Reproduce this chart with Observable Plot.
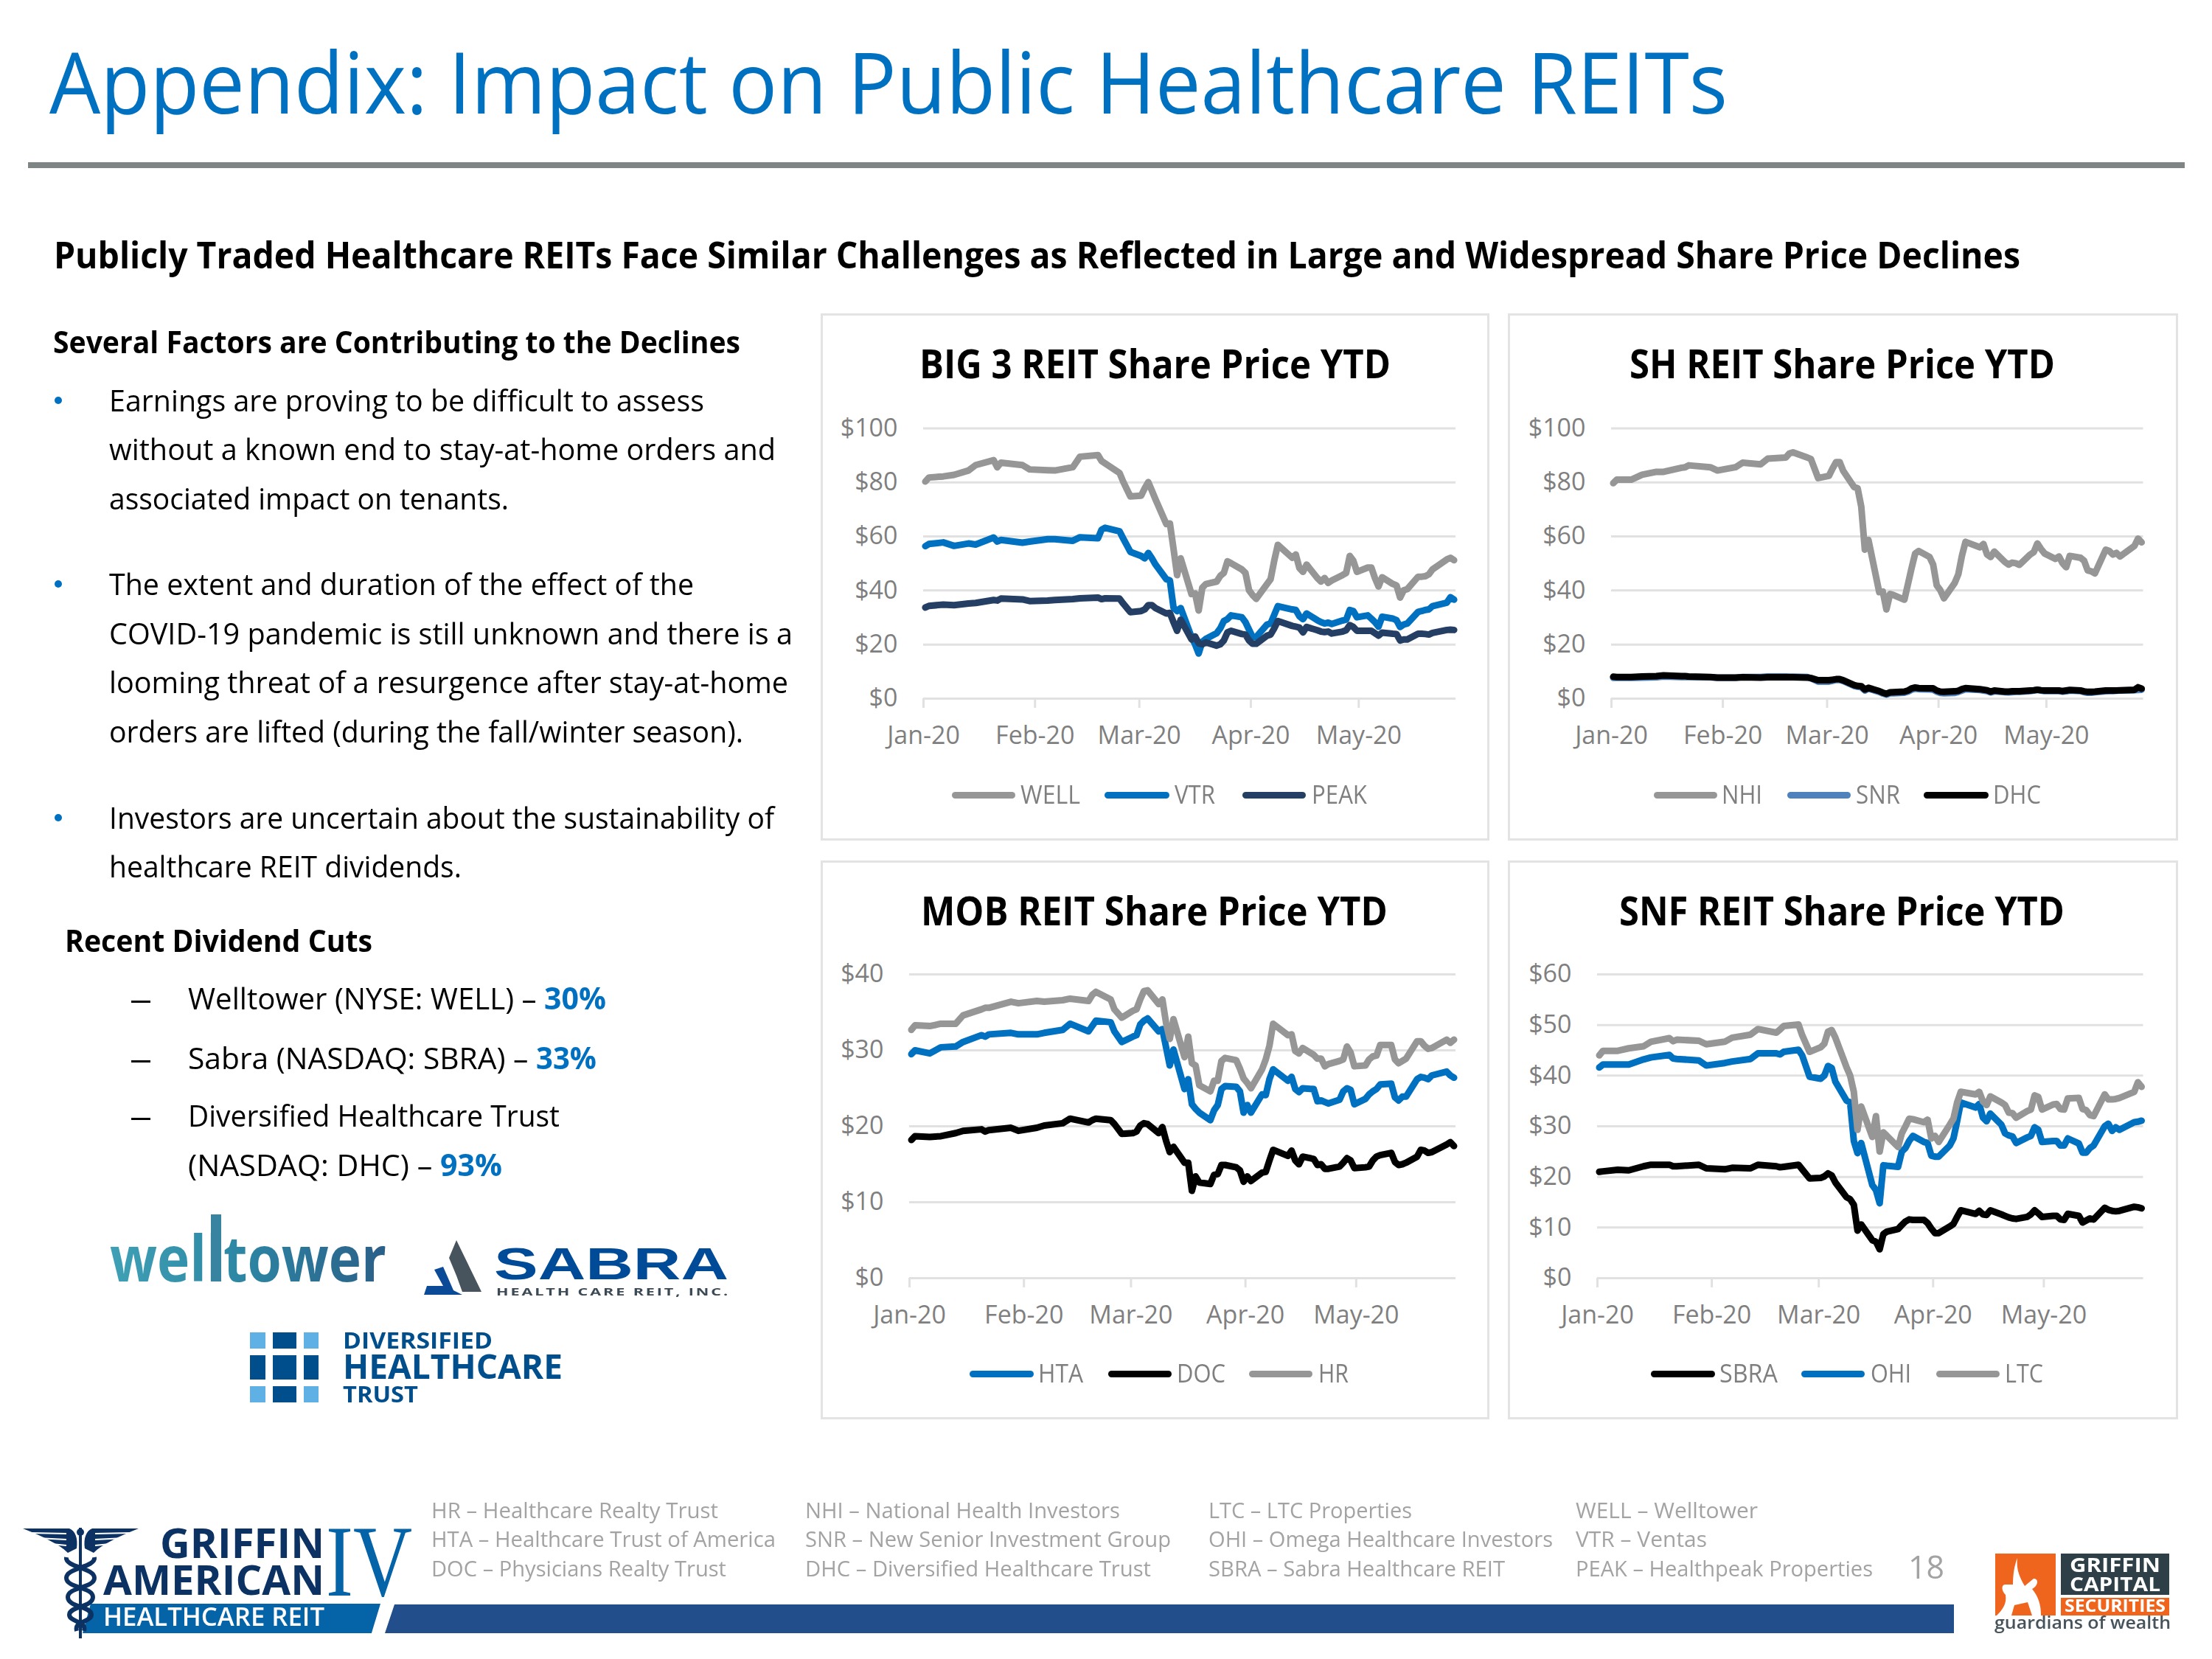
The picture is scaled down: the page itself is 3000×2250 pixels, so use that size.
<!DOCTYPE html>
<html><head><meta charset="utf-8">
<script src="https://cdn.jsdelivr.net/npm/d3@7"></script>
<script src="https://cdn.jsdelivr.net/npm/@observablehq/plot@0.6"></script>
<style>
html,body{margin:0;padding:0;background:#fff}
#page{position:relative;width:3000px;height:2250px;overflow:hidden;background:#fff;font-family:"Open Sans",sans-serif}
.t{position:absolute;white-space:pre;transform-origin:0 0;line-height:0.78}
.box{position:absolute}
.chart{position:absolute}
.chart svg{display:block;overflow:visible}
</style></head><body><div id="page"></div>
<script>
const tradingDays = ["01-02","01-03","01-07","01-10","01-14","01-16","01-21","01-22","01-23","01-29","01-31","02-05","02-07","02-12","02-14","02-19","02-20","02-21","02-25","02-26","02-28",
"03-02","03-03","03-04","03-05","03-06","03-09","03-10","03-11","03-12","03-13","03-16","03-17","03-18","03-19","03-20","03-23","03-24","03-25","03-26","03-27","03-30","03-31",
"04-01","04-02","04-03","04-06","04-07","04-08","04-09","04-13","04-14","04-15","04-16","04-17","04-20","04-21","04-22","04-23","04-24","04-27","04-28","04-29","04-30",
"05-01","05-04","05-05","05-06","05-07","05-08","05-11","05-12","05-13","05-14","05-15","05-18","05-19","05-20","05-21","05-22","05-26","05-27","05-28"];
const axisMonths = ["01-02","02-02","03-02","04-02","05-02"];

const WELL = [80.3,81.8,82.2,82.8,84.4,86.4,88.2,85.6,87.3,86.4,84.8,84.5,84.4,85.6,89.5,90.1,87.9,87,83.5,80.3,74.8,
75.1,77.8,80.1,76.9,73.7,64.6,64.8,55.5,45.7,51.9,38.7,38.9,32.6,41,42.4,43.3,45.4,46.5,50.8,50.1,47.8,46.5,
40.1,38.3,36.9,42.4,44.2,51,56.9,52.1,53.3,48.3,46.9,49.6,44.6,43.3,44.6,42.8,43.7,45.7,46.5,52.8,51,
46.9,48.5,48.5,44.6,41.5,44.9,42.4,41.9,37.4,40.1,40.5,45.1,45.1,45.3,46,47.8,51.5,52.1,51.2];
const VTR = [56.4,57.2,57.8,56.5,57.4,57,59.6,58.1,58.7,57.7,58.1,59,59,58.4,59.7,59.3,62.5,63.2,61.9,59.3,54.3,
52.8,51.9,53.9,51.9,49.6,44.2,43.7,33.7,32.4,33.5,22.8,20.1,16.7,21,22.1,24.2,26,28.7,29.4,30.8,30.1,28.3,
25.5,22.8,22.8,27.4,27.8,31,34.2,33,32.8,30.5,29.4,31.5,29,28.3,27.8,28.1,27.6,28.9,29.2,32.8,32.4,
30.1,30.8,29.6,28.3,26.6,30.3,29.6,29,26.5,27.4,27.8,32.1,32.4,32.8,33,34.2,35.5,37.5,36.6];
const PEAK = [33.7,34.3,34.8,34.6,35.2,35.4,36.5,36.3,37,36.7,36.1,36.3,36.5,36.8,37.1,37.4,36.8,37.1,37,35.2,32,
32.4,33,34.6,34.6,33.5,31.5,31.7,28.3,25.1,29.2,21.9,23,20.5,20.1,20.8,19.6,20.1,21.5,24.5,25.1,23.9,23.7,
21.5,20.3,20.3,23.3,23.7,26,28.7,26.9,26.6,26.3,24.5,26.5,25.3,24.8,24.6,24.8,24.1,24.8,25.3,27.2,26.5,
25.1,25.1,25.1,24.2,23.3,24.4,24,23.9,21.5,21.9,21.9,24,24,23.9,23.7,24.3,25.4,25.5,25.4];

const NHI = [79.7,81,81,82.8,83.9,83.9,85.4,85.6,86.3,85.6,84.4,85.6,87.3,86.7,88.8,89.2,90.7,91.1,89.2,88.6,81.6,
82.4,85.1,87.5,87.5,84.2,78.3,77.8,71,55.1,58.7,39.4,39.6,33,38.7,38.3,36.6,42.4,48.3,53.7,54.6,52.4,49.6,
41.9,40.1,37.1,42.8,46,52.8,58,56,57.2,53.3,52.4,54.4,50.5,49.6,50.3,50.1,49.5,53.3,54.2,57.4,55.4,
53.7,51.7,52.6,50.1,48.6,52.8,52.1,51,47.4,47.1,46.3,55.1,54.6,53.3,53.9,52.6,56.5,59.2,57.8];
const SNR = [7.7,7.7,7.7,7.8,7.9,8.2,8,8,8,7.9,7.7,7.7,8,8,8.2,8.2,8.1,8.1,8,7.5,6.3,
6.3,6.6,6.9,6.9,6.5,4.7,4.4,4.2,3,3.7,2.5,1.9,1.5,2,2,2.2,2.6,3.3,3.7,3.5,3.4,3.3,
2.6,2.1,2,2.1,2.5,3,3.5,3.2,3,2.8,2.3,2.7,2.4,2.3,2.4,2.5,2.5,2.8,3,3.2,3,
2.8,2.8,2.8,2.6,2.7,3,2.8,2.4,2.2,2.2,2.4,2.7,2.8,2.8,2.9,3,3.1,3.2,3.3];
const DHC = [8.1,8,8,8.2,8.3,8.6,8.3,8.3,8.2,8,7.8,7.8,7.9,7.8,7.9,7.9,7.9,7.9,7.8,7.6,6.8,
6.8,7,7.2,7.2,6.8,5,4.7,4.6,3.4,4,2.8,2.2,1.8,2.3,2.4,2.6,3,3.8,4.1,3.9,3.8,3.8,
3,2.6,2.5,2.7,2.9,3.5,3.9,3.5,3.3,3.1,2.6,3,2.6,2.6,2.7,2.7,2.7,3,3.1,3.3,3.1,
3,3,3,2.8,3,3.2,3,2.7,2.5,2.5,2.6,3,3,3,3,3.1,3.3,4.2,3.7];

const HTA = [29.5,30,29.6,30.4,30.5,31.1,32,31.8,32.1,32.3,32.1,32.1,32.3,32.7,33.5,32.5,33.2,33.9,33.7,32.5,31.1,
31.8,32,33.4,33.9,34.2,32.5,32.8,30.4,28,30.1,24.9,26.2,22.9,22.3,21.8,20.8,22.1,22.8,24.9,25.3,25.2,24.6,
21.8,22.8,21.8,24.2,24.1,26.2,27.5,26,26.5,24.9,24.5,25,24.9,23.3,23.4,23.2,23,23.5,24.6,25,24.8,
22.9,23.6,24.2,24.6,24.9,25.5,25.6,23.8,23.4,23.9,23.9,26.2,26.5,26.4,26.2,26.7,27.2,26.7,26.4];
const DOC = [18.2,18.7,18.6,18.7,19.1,19.4,19.6,19.3,19.5,19.8,19.4,19.8,20.1,20.4,21,20.5,20.8,21,20.8,20.3,19,
19.1,19.3,20.1,20.4,20.3,19.1,19.9,18.1,16.6,17.3,15.2,15.2,11.5,13.4,12.6,12.4,13.6,13.7,14.9,14.9,14.6,14.2,
12.7,13.4,12.8,13.9,14,15.5,16.9,16.1,16.8,15.5,15,16,15.7,14.9,15,14.4,14.4,14.7,15.2,15.8,15.5,
14.5,14.6,14.7,15.5,16,16.2,16.5,15.3,14.9,15,15.2,16,16.9,16.8,16.5,16.6,17.6,17.9,17.4];
const HR = [32.7,33.3,33.2,33.5,33.5,34.6,35.4,35.6,35.6,36.4,36.2,36.5,36.4,36.6,36.8,36.5,37.3,37.7,36.7,35.4,34.3,
35.2,35.4,36.7,37.8,37.9,36.1,36.7,33.6,31.5,34.1,29.1,31.8,28.3,28,25.4,24.6,26,26,28.6,29,28.7,27.6,
26.3,25.7,25,27.5,28.8,30.6,33.5,32,32.1,29.9,29.6,30.3,29.4,28.9,28.9,27.9,28.2,28.6,28.8,30.5,29.7,
27.9,28,28.8,29.2,29.3,30.7,30.7,28.8,28.3,28.6,28.9,31.2,31.2,30.6,30.2,30.3,31.4,31,31.4];

const SBRA = [21,21.1,21.4,21.3,22.1,22.4,22.4,22.1,22.1,22.4,21.7,21.5,21.8,21.7,22.4,22.1,21.9,22,22.4,21.5,19.7,
19.8,20.1,20.7,20.3,18.9,16,15.6,14.5,9.4,10.6,7.5,7.2,5.7,8.7,9.2,9.7,10.5,11.2,11.6,11.5,11.5,10.9,
9.8,8.9,8.9,10.2,10.7,12.1,13.4,12.7,13.3,12.6,12.5,13.4,12.6,12.3,12,11.8,11.7,12.1,12.6,13.4,12.8,
12.1,12.3,12.3,11.6,11.5,12.7,12.3,11,11.4,11.8,11.6,13.9,13.5,13.3,13.2,13.3,14.1,14,13.8];
const OHI = [41.6,42.2,42.2,42.2,43.2,43.6,44.1,43.4,43.3,43,42,42.5,42.8,43.3,44.4,44.4,44.2,44.7,45.1,44,39.8,
39.4,40,41.9,41.5,38.8,35.1,34.7,27.1,24.7,26.7,18.4,17.4,14.8,22.3,22.2,22,25,25.7,27.1,28.1,26.9,26.7,
24.2,24,24,26.2,27.6,31,34.7,33.7,34.4,31.7,31,32.5,30.3,28.6,28.2,28,26.7,27.8,28.1,29.8,29.3,
26.9,27.1,27.1,26.2,26.2,27.6,26.6,24.8,24.8,25.7,26.2,30,30.5,29.1,29.8,29.3,30.8,30.9,31.1];
const LTC = [44,44.9,44.9,45.4,45.8,46.7,47.4,46.8,47.1,46.9,46.2,46.7,47.5,48.1,49.2,48.5,49.1,49.8,50.1,48,44.7,
45.6,46.3,48.7,49,47.5,41.7,40,36.8,29.3,33.9,27.9,32,25,28.8,28.1,25.9,28.6,30,31.5,31.4,30.8,31.3,
27.6,28.1,26.9,30.3,31.5,34.7,36.8,36.3,36.8,34.9,34.2,35.9,34.7,34.2,32.7,32.6,31.7,33,33.3,36.1,35.8,
33.3,34.3,34.4,33.4,33.3,35.5,35.6,33.4,33.2,32.2,32,36.3,35.3,35.3,35.4,35.6,36.8,38.7,37.8];

const ticks100 = [0,20,40,60,80,100];
const ticks40 = [0,10,20,30,40];
const ticks60 = [0,10,20,30,40,50,60];

const GRAY="#969696", BLUE="#0070c0", NAVY="#243f63", STEEL="#4f81bd", BLACK="#000000";
const LABEL="#7f7f7f", GRID="#e1e1e1";

const page=document.getElementById("page");
const toDate=s=>new Date(Date.UTC(2020,+s.slice(0,2)-1,+s.slice(3)));
const toNoon=s=>new Date(+toDate(s)+43200000);

function box(x,y,w,h,css){const d=document.createElement("div");d.className="box";
  d.style.cssText=`left:${x}px;top:${y}px;width:${w}px;height:${h}px;`+(css||"");page.appendChild(d);return d;}
// text placed by left edge and baseline, horizontally fitted to the width it has in the reference
function text(str,x,base,size,right,o={}){
  const s=document.createElement("span");s.className="t";s.textContent=str;
  s.style.fontSize=size+"px";s.style.color=o.color||"#000";s.style.fontWeight=o.weight||400;
  s.style.fontFamily=o.font||'"Open Sans",sans-serif';
  if(o.ls)s.style.letterSpacing=o.ls+"px";
  if(o.gradient){s.style.background=o.gradient;s.style.webkitBackgroundClip="text";s.style.backgroundClip="text";s.style.color="transparent";s.style.lineHeight="1.3";}
  page.appendChild(s);
  const ctx=document.createElement("canvas").getContext("2d");
  ctx.font=`${o.weight||400} ${size}px ${o.font||'"Open Sans"'}`;
  const m=ctx.measureText("Hg");
  const asc=m.fontBoundingBoxAscent,desc=m.fontBoundingBoxDescent;
  const lh=o.gradient?1.3:0.78;
  const top=base-(lh*size-(asc+desc))/2-asc;
  s.style.left=x+"px";s.style.top=top+"px";
  if(right){const w=s.getBoundingClientRect().width;s.style.transform=`scaleX(${(right-x)/w})`;}
  return s;
}
function svgBox(x,y,w,h,inner){const d=box(x,y,w,h);d.innerHTML=`<svg xmlns="http://www.w3.org/2000/svg" width="${w}" height="${h}" viewBox="0 0 ${w} ${h}">${inner}</svg>`;return d;}

/* ---------- charts ---------- */
const charts=[
 {title:"BIG 3 REIT Share Price YTD",tx:[1247,1886],tb:513,card:[1113,425,907,715],plot:[1252,1974,580.4,947],yd:[0,100],yt:ticks100,
  series:[["WELL",WELL,GRAY],["VTR",VTR,BLUE],["PEAK",PEAK,NAVY]],
  legendY:1078,legend:[[1291,1377,1384,1465],[1498,1586,1593,1648],[1685,1771,1779,1854]]},
 {title:"SH REIT Share Price YTD",tx:[2210,2787],tb:513,card:[2045,425,909,715],plot:[2185,2906.5,580.4,947],yd:[0,100],yt:ticks100,
  series:[["NHI",NHI,GRAY],["SNR",SNR,STEEL],["DHC",DHC,BLACK]],
  legendY:1078,legend:[[2243,2329,2335,2390],[2424,2510,2517,2577],[2609,2697,2703,2768]]},
 {title:"MOB REIT Share Price YTD",tx:[1249,1882],tb:1255,card:[1113,1167,907,758],plot:[1233,1974,1321,1733],yd:[0,40],yt:ticks40,
  series:[["HTA",HTA,BLUE],["DOC",DOC,BLACK],["HR",HR,GRAY]],
  legendY:1863,legend:[[1315,1402,1408,1469],[1503,1589,1596,1662],[1694,1780,1788,1829]]},
 {title:"SNF REIT Share Price YTD",tx:[2196,2800],tb:1255,card:[2045,1167,909,758],plot:[2166,2906.5,1321,1733],yd:[0,60],yt:ticks60,
  series:[["SBRA",SBRA,BLACK],["OHI",OHI,BLUE],["LTC",LTC,GRAY]],
  legendY:1863,legend:[[2239,2326,2332,2411],[2443,2529,2537,2592],[2626,2712,2719,2771]]}
];

for(const c of charts){
  const [cx,cy,cw,ch]=c.card,[px0,px1,py0,py1]=c.plot;
  box(cx,cy,cw-6,ch-6,`border:3px solid #e3e3e3;`);
  text(c.title,c.tx[0],c.tb,54,c.tx[1],{weight:700});
  const marks=[
    Plot.gridY(c.yt,{stroke:GRID,strokeWidth:3,strokeOpacity:1}),
    Plot.axisY(c.yt,{tickSize:0,tickPadding:35,fill:LABEL,tickFormat:d=>"$"+d,label:null}),
    Plot.axisX(axisMonths.map(toDate),{tickSize:13,tickPadding:24,stroke:GRID,strokeWidth:3,fill:LABEL,tickFormat:d3.utcFormat("%b-%y"),label:null})
  ];
  for(const [name,vals,color] of c.series){
    if(vals.length!==tradingDays.length) throw new Error(name+" has "+vals.length+" values, expected "+tradingDays.length);
    marks.push(Plot.line(vals.map((v,i)=>({date:toNoon(tradingDays[i]),price:v})),
      {x:"date",y:"price",stroke:color,strokeWidth:9,strokeLinejoin:"round",strokeLinecap:"round",curve:"linear"}));
  }
  const svg=Plot.plot({
    width:cw,height:ch,
    marginLeft:px0-cx,marginRight:cx+cw-px1,marginTop:py0-cy,marginBottom:cy+ch-py1,
    x:{type:"utc",domain:[toDate("01-02"),toDate("05-29")]},
    y:{domain:c.yd},
    style:{fontFamily:'"Open Sans",sans-serif',fontSize:"34px",background:"transparent",overflow:"visible"},
    marks
  });
  const wrap=document.createElement("div");wrap.className="chart";wrap.style.left=cx+"px";wrap.style.top=cy+"px";
  wrap.appendChild(svg);page.appendChild(wrap);
  c.series.forEach(([name,,color],i)=>{
    const [a,b,tx,tr]=c.legend[i];
    box(a,c.legendY-4.5,b-a,9,`background:${color};border-radius:4.5px;`);
    text(name,tx,c.legendY+12,34,tr,{color:LABEL});
  });
}

/* ---------- slide header ---------- */
text("Appendix: Impact on Public Healthcare REITs",67,154,116,2343,{color:"#0070c0",weight:400});
box(38,220,2925,7.5,"background:#7f8484;");
text("Publicly Traded Healthcare REITs Face Similar Challenges as Reflected in Large and Widespread Share Price Declines",73,365,51,2740,{weight:700});

/* ---------- left column ---------- */
text("Several Factors are Contributing to the Declines",72,480,42,1004,{weight:700});
const bullets=[
 ["Earnings are proving to be difficult to assess",559,955,true],
 ["without a known end to stay-at-home orders and",625,1052],
 ["associated impact on tenants.",692,690],
 ["The extent and duration of the effect of the",808,941,true],
 ["COVID-19 pandemic is still unknown and there is a",875,1075],
 ["looming threat of a resurgence after stay-at-home",941,1069],
 ["orders are lifted (during the fall/winter season).",1008,1008],
 ["Investors are uncertain about the sustainability of",1125,1050,true],
 ["healthcare REIT dividends.",1191,626]
];
for(const [s,b,r,dot] of bullets){
  text(s,148,b,41,r);
  if(dot) box(74,b-21,10,10,"background:#0070c0;border-radius:50%;");
}
text("Recent Dividend Cuts",88,1292,42,505,{weight:700});
const cuts=[
 ["Welltower (NYSE: WELL) – ",1370,738,"30%",822,true],
 ["Sabra (NASDAQ: SBRA) – ",1451,727,"33%",809,true],
 ["Diversified Healthcare Trust",1529,759,null,null,true],
 ["(NASDAQ: DHC) – ",1596,597,"93%",681,false]
];
for(const [s,b,r,pct,pr,dash] of cuts){
  if(dash) box(178,b-13,26,3,"background:#000;");
  text(s,255,b,41,r);
  if(pct) text(pct,r,b,41,pr,{weight:700,color:"#0070c0"});
}

/* ---------- logos ---------- */
text("welltower",149,1738,86,524,{weight:700,gradient:"linear-gradient(90deg,#3fa0b5 0%,#2d88a5 45%,#2b5f88 100%)"});
box(286,1647,14,91,"background:#38839f;");
svgBox(575,1680,82,78,`<polygon points="44,2 78,72 52,72 44,50 34,26" fill="#47545e"/><polygon points="26,38 40,70 52,76 0,76 4,64 26,64 14,42" fill="#0a4a97"/>`);
text("SABRA",670,1736,62,988,{weight:800,color:"#004b97",font:'"Liberation Sans"'});
text("HEALTH CARE REIT, INC.",673,1758,15,990,{weight:700,color:"#3c4a55",ls:2});
const lightB="#5eb0e5",darkB="#004f8c";
[[1807,22,lightB,darkB],[1838,33,darkB,darkB],[1880,22,lightB,darkB]].forEach(([y,h,a,b])=>{
  box(339,y,21,h,`background:${a}`);box(370,y,32,h,`background:${b}`);box(412,y,20,h,`background:${a}`);
});
text("DIVERSIFIED",465,1829,30,668,{weight:700,color:darkB});
text("HEALTHCARE",465,1871,46,763,{weight:700,color:darkB});
text("TRUST",465,1902,30,567,{weight:700,color:darkB});

/* ---------- footer glossary ---------- */
const GLOSS="#a3a3a3";
const glossary=[
 ["HR – Healthcare Realty Trust",585,2059,974],["HTA – Healthcare Trust of America",585,2098,1052],["DOC – Physicians Realty Trust",585,2138,985],
 ["NHI – National Health Investors",1092,2059,1519],["SNR – New Senior Investment Group",1092,2098,1588],["DHC – Diversified Healthcare Trust",1092,2138,1561],
 ["LTC – LTC Properties",1639,2059,1915],["OHI – Omega Healthcare Investors",1639,2098,2106],["SBRA – Sabra Healthcare REIT",1639,2138,2041],
 ["WELL – Welltower",2137,2059,2384],["VTR – Ventas",2137,2098,2315],["PEAK – Healthpeak Properties",2137,2138,2540]
];
for(const [s,x,b,r] of glossary) text(s,x,b,30,r,{color:GLOSS});
text("18",2588,2141,44,2637,{color:GLOSS});
box(522,2176,2128,39,"background:#234e8c;clip-path:polygon(13px 0,100% 0,100% 100%,0 100%);");

/* ---------- Griffin American logo ---------- */
const NAVYLOGO="#0b3263",BLUELOGO="#0563a8";
box(112,2175,404,40,`background:${BLUELOGO};clip-path:polygon(11px 0,100% 0,97% 100%,0 100%);`);
svgBox(28,2070,165,155,`
 <path d="M3 3 L66 3 C74 6 78 16 76 30 L64 36 C52 24 30 14 3 3Z" fill="${NAVYLOGO}"/>
 <path d="M160 3 L97 3 C89 6 85 16 87 30 L99 36 C111 24 133 14 160 3Z" fill="${NAVYLOGO}"/>
 <path d="M14 9 L62 10 M22 16 L62 18 M32 23 L62 26 M149 9 L101 10 M141 16 L101 18 M131 23 L101 26" stroke="#fff" stroke-width="2" fill="none"/>
 <line x1="81" y1="2" x2="81" y2="152" stroke="${NAVYLOGO}" stroke-width="4"/>
 <circle cx="81" cy="8" r="5" fill="${NAVYLOGO}"/>
 <path d="M62 42 C60 56 100 56 100 70 C100 84 64 82 64 96 C64 110 96 108 96 120 C96 130 72 128 76 142" fill="none" stroke="${NAVYLOGO}" stroke-width="6"/>
 <path d="M100 42 C102 56 62 56 62 70 C62 84 98 82 98 96 C98 110 66 108 66 120 C66 130 90 128 86 142" fill="none" stroke="${NAVYLOGO}" stroke-width="6"/>`);
text("GRIFFIN",217,2114,56,440,{weight:700,color:NAVYLOGO});
text("AMERICAN",140,2164,56,440,{weight:700,color:NAVYLOGO});
text("IV",442,2164,138,559,{color:BLUELOGO,font:'"Liberation Serif"'});
text("HEALTHCARE REIT",140,2205,34,440,{weight:600,color:"#fff"});

/* ---------- Griffin Capital logo ---------- */
const ORANGE="#f0651d",SLATE="#2e3f48";
box(2706,2107,82,84,`background:${ORANGE};`);
svgBox(2706,2107,82,84,`<path d="M30 6 C28 22 34 34 40 44 L52 34 C60 34 58 44 50 48 C58 58 62 68 62 84 L50 84 L44 66 L26 70 L22 84 L2 84 C10 76 16 68 14 56 C8 50 8 42 14 42 L24 42 C24 28 26 16 30 6Z" fill="#fff"/>`);
box(2795,2107,147,56,`background:${SLATE};`);
box(2795,2167,147,24,`background:${ORANGE};`);
text("GRIFFIN",2807,2132,26,2930,{weight:700,color:"#fff"});
text("CAPITAL",2807,2158,26,2930,{weight:700,color:"#fff"});
text("SECURITIES",2800,2187,23,2937,{weight:700,color:"#fff"});
text("guardians of wealth",2705,2210,24,2944,{weight:600,color:"#46535b"});
</script></body></html>
